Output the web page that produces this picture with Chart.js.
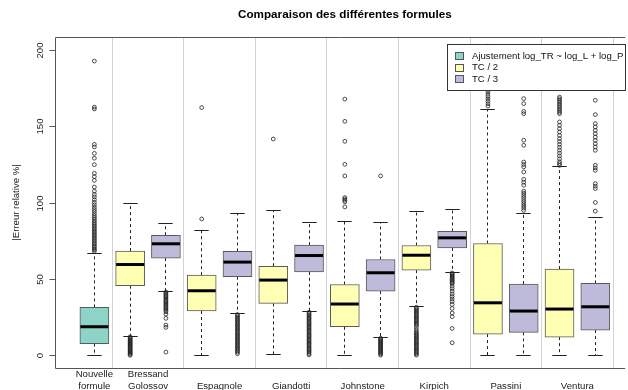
<!DOCTYPE html>
<html lang="fr">
<head>
<meta charset="utf-8">
<title>Comparaison des différentes formules</title>
<script src="https://cdn.jsdelivr.net/npm/chart.js@4.4.1/dist/chart.umd.min.js"></script>
<style>
    html, body { margin: 0; padding: 0; background: #ffffff; overflow: hidden; }
    #chartBox { width: 628px; height: 390px; }
</style>
</head>
<body>
<div id="chartBox"><canvas id="formulaChart" width="628" height="390"></canvas></div>
<script>
const chartTitle = 'Comparaison des différentes formules';
const yAxisTitle = '|Erreur relative %|';
const categoryLines = [
    ['Nouvelle', 'formule'], ['Bressand', 'Golossov'], ['Espagnole'], ['Giandotti'],
    ['Johnstone'], ['Kirpich'], ['Passini'], ['Ventura']
];
const seriesNames = ['Ajustement log_TR ~ log_L + log_P', 'TC / 2', 'TC / 3'];
const seriesColors = ['#8dd3c7', '#ffffb3', '#bebada'];
const yTicks = [0, 50, 100, 150, 200];

// one entry per box, left to right
const boxCategory = [0, 1, 1, 2, 2, 3, 3, 4, 4, 5, 5, 6, 6, 7, 7];
const boxSeries = [0, 1, 2, 1, 2, 1, 2, 1, 2, 1, 2, 1, 2, 1, 2];
const boxPositions = [1, 2, 3, 4, 5, 6, 7, 8, 9, 10, 11, 12, 13, 14, 15];
const whiskerLow = [0, 12.9, 42.2, 0, 27.5, 0.9, 29.1, 0, 12.0, 32.3, 54.8, 0, 0, 0, 0];
const quartileLow = [7.9, 45.9, 64.0, 29.3, 51.8, 34.3, 55.0, 19.0, 42.4, 56.1, 70.7, 14.2, 15.3, 12.2, 16.8];
const medians = [19.0, 59.8, 73.4, 42.6, 61.4, 49.6, 65.7, 33.9, 54.4, 65.9, 77.3, 34.7, 29.3, 30.6, 32.1];
const quartileHigh = [31.7, 68.6, 79.0, 52.8, 68.4, 58.7, 72.5, 46.7, 63.1, 72.3, 81.5, 73.6, 47.0, 56.8, 47.4];
const whiskerHigh = [67.0, 99.8, 86.7, 81.9, 93.0, 95.2, 87.1, 87.8, 87.3, 94.3, 96.1, 161.6, 93.5, 124.0, 90.5];
const outliers = [
    [193.2, 163.0, 161.8, 138.6, 136.9, 132.7, 129.5, 125.3, 119.6, 117.4, 115.0, 110.6, 107.9, 105.8, 104.1, 102.3,
     100.6, 98.9, 97.3, 95.9, 94.6, 93.1, 91.8, 90.6, 89.5, 88.3, 87.2, 86.2, 85.1, 84.0, 83.1, 82.0, 81.0, 80.1,
     79.0, 78.1, 77.0, 76.2, 75.1, 74.0, 73.2, 72.1, 71.3, 70.2, 69.4, 68.5],
    [12.4, 11.8, 11.1, 10.5, 9.9, 9.3, 8.6, 8.0, 7.5, 6.9, 6.2, 5.6, 5.1, 4.5, 3.9, 3.3, 2.7, 2.1, 1.5, 0.9, 0.3],
    [41.8, 41.1, 40.3, 39.5, 38.7, 37.9, 37.0, 36.3, 35.5, 34.6, 33.9, 33.1, 32.2, 31.4, 30.7, 29.9, 28.8, 27.3,
     24.5, 20.1, 18.6, 2.4],
    [162.7, 89.7],
    [27.0, 26.2, 25.3, 24.5, 23.6, 22.8, 21.9, 21.1, 20.2, 19.4, 18.5, 17.7, 16.8, 16.0, 15.1, 14.3, 13.4, 12.6,
     11.7, 10.9, 10.0, 9.2, 8.3, 7.5, 6.6, 5.8, 4.9, 4.1, 3.2, 2.4, 1.3],
    [142.1],
    [28.6, 27.8, 26.9, 26.1, 25.2, 24.4, 23.5, 22.7, 21.8, 21.0, 20.1, 19.3, 18.4, 17.6, 16.7, 15.9, 15.0, 14.2,
     13.3, 12.5, 11.6, 10.8, 9.9, 9.1, 8.2, 7.4, 6.5, 5.7, 4.8, 4.0, 3.1, 2.3, 1.4, 0.5],
    [168.3, 153.7, 140.6, 125.5, 117.9, 103.7, 102.8, 101.9, 100.9, 97.6],
    [117.9, 11.5, 10.9, 10.2, 9.6, 8.9, 8.3, 7.6, 7.0, 6.3, 5.7, 5.0, 4.4, 3.7, 3.1, 2.4, 1.8, 1.1, 0.4],
    [31.8, 31.0, 30.2, 29.4, 28.6, 27.8, 27.0, 26.2, 25.4, 24.6, 23.8, 23.0, 22.2, 21.4, 20.6, 19.8, 18.4, 16.9,
     15.6, 14.8, 14.0, 13.2, 12.4, 11.6, 10.8, 10.0, 9.2, 8.4, 7.6, 6.8, 6.0, 5.2, 4.4, 3.6, 2.8, 2.0, 1.2, 0.4],
    [54.3, 53.6, 52.9, 52.2, 51.5, 50.8, 50.1, 49.4, 48.7, 48.0, 47.3, 45.6, 44.0, 42.3, 40.5, 38.8, 37.2, 35.5,
     33.6, 31.0, 28.0, 25.6, 17.9, 8.5],
    [163.7, 165.2, 166.8, 168.3, 169.9, 171.4, 173.0, 174.6, 176.1, 178.0, 180.2, 182.5, 184.7, 187.0, 189.4,
     191.8, 194.3, 196.9, 199.6, 203.0],
    [168.6, 165.3, 160.2, 158.7, 141.3, 138.0, 127.0, 125.4, 123.8, 120.5, 115.7, 113.8, 111.8, 107.9, 106.6,
     105.2, 103.8, 102.4, 101.0, 99.6, 98.2, 96.8, 95.3],
    [169.6, 168.5, 167.4, 166.3, 165.2, 164.1, 163.0, 161.9, 160.8, 159.7, 158.7, 153.3, 151.1, 148.9, 146.7,
     144.5, 142.4, 140.5, 138.6, 136.7, 134.8, 132.9, 131.0, 129.1, 127.2, 126.0, 124.8],
    [167.5, 158.1, 152.2, 150.0, 147.8, 145.6, 143.4, 141.2, 139.0, 136.9, 134.7, 124.9, 123.2, 121.6, 112.9,
     111.2, 109.6, 100.5, 94.8]
];

const FONT = '"Liberation Sans", Arial, Helvetica, sans-serif';
const BOX_WIDTH = 29;
const CAP_HALF = 7.2;

document.addEventListener('DOMContentLoaded', function() {
    if (typeof Chart === 'undefined') {
        console.error('Chart.js is not loaded.');
        return;
    }
    createBoxplotChart();
});

function crisp(v) {
    return Math.round(v - 0.5) + 0.5;
}

function drawSeparators(chart) {
    const ctx = chart.ctx;
    const x = chart.scales.x;
    const area = chart.chartArea;
    ctx.save();
    ctx.strokeStyle = '#d3d3d3';
    ctx.lineWidth = 1;
    boxPositions.forEach((pos, i) => {
        if (i < boxCategory.length - 1 && boxCategory[i + 1] === boxCategory[i]) return;
        const px = crisp(x.getPixelForValue(pos + 0.5));
        ctx.beginPath();
        ctx.moveTo(px, area.top);
        ctx.lineTo(px, area.bottom);
        ctx.stroke();
    });
    ctx.restore();
}

function drawWhiskers(chart) {
    const ctx = chart.ctx;
    const x = chart.scales.x;
    const y = chart.scales.y;
    ctx.save();
    ctx.strokeStyle = '#222222';
    ctx.lineWidth = 1;
    boxPositions.forEach((pos, i) => {
        const px = crisp(x.getPixelForValue(pos));
        ctx.setLineDash([3, 3]);
        ctx.beginPath();
        ctx.moveTo(px, y.getPixelForValue(quartileHigh[i]));
        ctx.lineTo(px, y.getPixelForValue(whiskerHigh[i]));
        ctx.moveTo(px, y.getPixelForValue(quartileLow[i]));
        ctx.lineTo(px, y.getPixelForValue(whiskerLow[i]));
        ctx.stroke();
        ctx.setLineDash([]);
        ctx.beginPath();
        [whiskerHigh[i], whiskerLow[i]].forEach(v => {
            const py = crisp(y.getPixelForValue(v));
            ctx.moveTo(px - CAP_HALF, py);
            ctx.lineTo(px + CAP_HALF, py);
        });
        ctx.stroke();
    });
    ctx.restore();
}

function drawMedians(chart) {
    const ctx = chart.ctx;
    const x = chart.scales.x;
    const y = chart.scales.y;
    ctx.save();
    ctx.strokeStyle = '#000000';
    ctx.lineWidth = 3;
    boxPositions.forEach((pos, i) => {
        const px = x.getPixelForValue(pos);
        const py = y.getPixelForValue(medians[i]);
        ctx.beginPath();
        ctx.moveTo(px - BOX_WIDTH / 2 + 0.5, py);
        ctx.lineTo(px + BOX_WIDTH / 2 - 0.5, py);
        ctx.stroke();
    });
    ctx.restore();
}

function drawFrameAndAxes(chart) {
    const ctx = chart.ctx;
    const x = chart.scales.x;
    const y = chart.scales.y;
    const area = chart.chartArea;
    const left = crisp(area.left);
    ctx.save();
    ctx.strokeStyle = '#555555';
    ctx.lineWidth = 1;
    ctx.beginPath();
    ctx.moveTo(area.right + 2, crisp(area.top));
    ctx.lineTo(left, crisp(area.top));
    ctx.lineTo(left, crisp(area.bottom));
    ctx.lineTo(area.right + 2, crisp(area.bottom));
    ctx.stroke();

    ctx.fillStyle = '#222222';
    ctx.font = '9.6px ' + FONT;
    ctx.textAlign = 'center';
    ctx.textBaseline = 'middle';
    yTicks.forEach(t => {
        const py = crisp(y.getPixelForValue(t));
        ctx.beginPath();
        ctx.moveTo(left - 6, py);
        ctx.lineTo(left, py);
        ctx.stroke();
        ctx.save();
        ctx.translate(40, py);
        ctx.rotate(-Math.PI / 2);
        ctx.fillText(String(t), 0, 0);
        ctx.restore();
    });

    categoryLines.forEach((lines, c) => {
        const members = boxPositions.filter((p, i) => boxCategory[i] === c);
        const center = members.reduce((a, b) => a + b, 0) / members.length;
        const px = x.getPixelForValue(center);
        lines.forEach((line, j) => {
            const py = 386.8 - (lines.length - 1 - j) * 12.4;
            ctx.fillText(line, px, py);
        });
    });

    ctx.save();
    ctx.translate(16, (area.top + area.bottom) / 2);
    ctx.rotate(-Math.PI / 2);
    ctx.fillText(yAxisTitle, 0, 0);
    ctx.restore();

    ctx.fillStyle = '#000000';
    ctx.font = 'bold 11.7px ' + FONT;
    ctx.fillText(chartTitle, x.getPixelForValue(8), 15);
    ctx.restore();
}

function drawLegend(chart) {
    const ctx = chart.ctx;
    const left = 447.5, top = 44.5, width = 178, height = 46;
    ctx.save();
    ctx.fillStyle = '#ffffff';
    ctx.fillRect(left, top, width, height);
    ctx.strokeStyle = '#333333';
    ctx.lineWidth = 1;
    ctx.strokeRect(left, top, width, height);
    ctx.font = '9.6px ' + FONT;
    ctx.textAlign = 'left';
    ctx.textBaseline = 'middle';
    seriesNames.forEach((name, i) => {
        const rowY = top + 11.5 + i * 11.5;
        ctx.fillStyle = seriesColors[i];
        ctx.fillRect(455.5, Math.round(rowY) - 3.5, 8, 7);
        ctx.strokeStyle = '#555555';
        ctx.strokeRect(455.5, Math.round(rowY) - 3.5, 8, 7);
        ctx.fillStyle = '#111111';
        ctx.fillText(name, 472, rowY);
    });
    ctx.restore();
}

const boxplotExtras = {
    id: 'boxplotExtras',
    beforeDatasetsDraw(chart) {
        drawSeparators(chart);
        drawWhiskers(chart);
    },
    afterDatasetsDraw(chart) {
        drawMedians(chart);
    },
    afterDraw(chart) {
        drawFrameAndAxes(chart);
        drawLegend(chart);
    }
};

function createBoxplotChart() {
    const ctx = document.getElementById('formulaChart');

    const boxData = boxPositions.map((pos, i) => ({ x: pos, y: [quartileLow[i], quartileHigh[i]] }));
    const outlierData = [];
    outliers.forEach((list, i) => {
        list.forEach(v => outlierData.push({ x: boxPositions[i], y: v }));
    });

    new Chart(ctx, {
        type: 'bar',
        data: {
            datasets: [{
                type: 'scatter',
                label: 'Valeurs extrêmes',
                data: outlierData,
                pointRadius: 1.9,
                pointStyle: 'circle',
                pointBackgroundColor: 'rgba(255, 255, 255, 0)',
                pointBorderColor: '#222222',
                pointBorderWidth: 0.8,
                showLine: false,
                clip: false
            }, {
                type: 'bar',
                label: 'Boîtes',
                data: boxData,
                backgroundColor: boxSeries.map(s => seriesColors[s]),
                borderColor: '#5a5a5a',
                borderWidth: 1,
                borderSkipped: false,
                barThickness: BOX_WIDTH,
                grouped: false
            }]
        },
        options: {
            responsive: false,
            animation: false,
            devicePixelRatio: 1,
            events: [],
            layout: {
                padding: { left: 55, top: 37, right: 0, bottom: 22 }
            },
            scales: {
                x: {
                    type: 'linear',
                    display: false,
                    offset: false,
                    min: -0.1,
                    max: 15.78
                },
                y: {
                    type: 'linear',
                    display: false,
                    min: -8.05,
                    max: 209
                }
            },
            plugins: {
                legend: { display: false },
                title: { display: false },
                tooltip: { enabled: false }
            }
        },
        plugins: [boxplotExtras]
    });
}
</script>
</body>
</html>
